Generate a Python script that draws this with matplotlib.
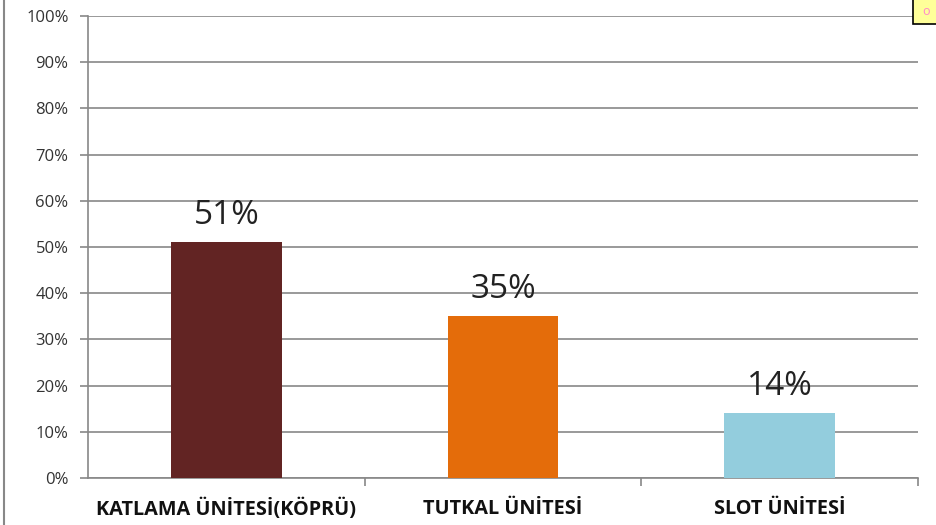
import matplotlib.pyplot as plt
from matplotlib.patches import Rectangle
from matplotlib.lines import Line2D

# ============================================================
# Podatki
# ============================================================

categories = ["KATLAMA ÜNİTESİ(KÖPRÜ)", "TUTKAL ÜNİTESİ", "SLOT ÜNİTESİ"]
values = [51, 35, 14]
colors = ["#622423", "#E46C0A", "#93CDDD"]
y_ticks = [0, 10, 20, 30, 40, 50, 60, 70, 80, 90, 100]

# ============================================================
# Risanje
# ============================================================

plt.rcParams["font.family"] = ["Open Sans", "DejaVu Sans"]

fig = plt.figure(figsize=(9.37, 5.25), dpi=100)
ax = fig.add_axes([0.0939, 0.0895, 0.886, 0.88])

x = list(range(len(categories)))
ax.bar(x, values, width=0.4, color=colors, zorder=3)

for xi, v in zip(x, values):
    ax.text(xi, v + 2.2, f"{v}%", ha="center", va="bottom", fontsize=24, color="#222222")

ax.set_xlim(-0.5, 2.5)
ax.set_ylim(0, 100)
ax.set_yticks(y_ticks)
ax.set_yticklabels([f"{t}%" for t in y_ticks], fontsize=12, color="#333333")

ax.yaxis.grid(True, color="#888888", linewidth=1.2, zorder=0)
ax.set_axisbelow(True)

ax.set_xticks([0.5, 1.5, 2.5])
ax.set_xticklabels([])
ax.tick_params(axis="x", length=6, color="#888888", width=1.2)
ax.tick_params(axis="y", length=6, color="#888888", width=1.2, pad=8)

for xi, name in zip(x, categories):
    ax.text(xi, -4.5, name, ha="center", va="top", fontsize=14.3,
            fontweight="bold", color="#111111")

for side in ["top", "right"]:
    ax.spines[side].set_visible(False)
for side in ["left", "bottom"]:
    ax.spines[side].set_color("#888888")
    ax.spines[side].set_linewidth(1.2)

# levi rob okvirja
fig.add_artist(Line2D([0.0045, 0.0045], [0, 1], color="#888888", linewidth=1.5,
                      transform=fig.transFigure))

# majhen rumen okvirček zgoraj desno
fig.add_artist(Rectangle((0.974, 0.955), 0.03, 0.05, transform=fig.transFigure,
                         facecolor="#FFFF99", edgecolor="black", linewidth=1.2))
fig.text(0.988, 0.978, "o", ha="center", va="center", fontsize=9, color="#FF88CC")

fig.savefig("out.png", dpi=100)
